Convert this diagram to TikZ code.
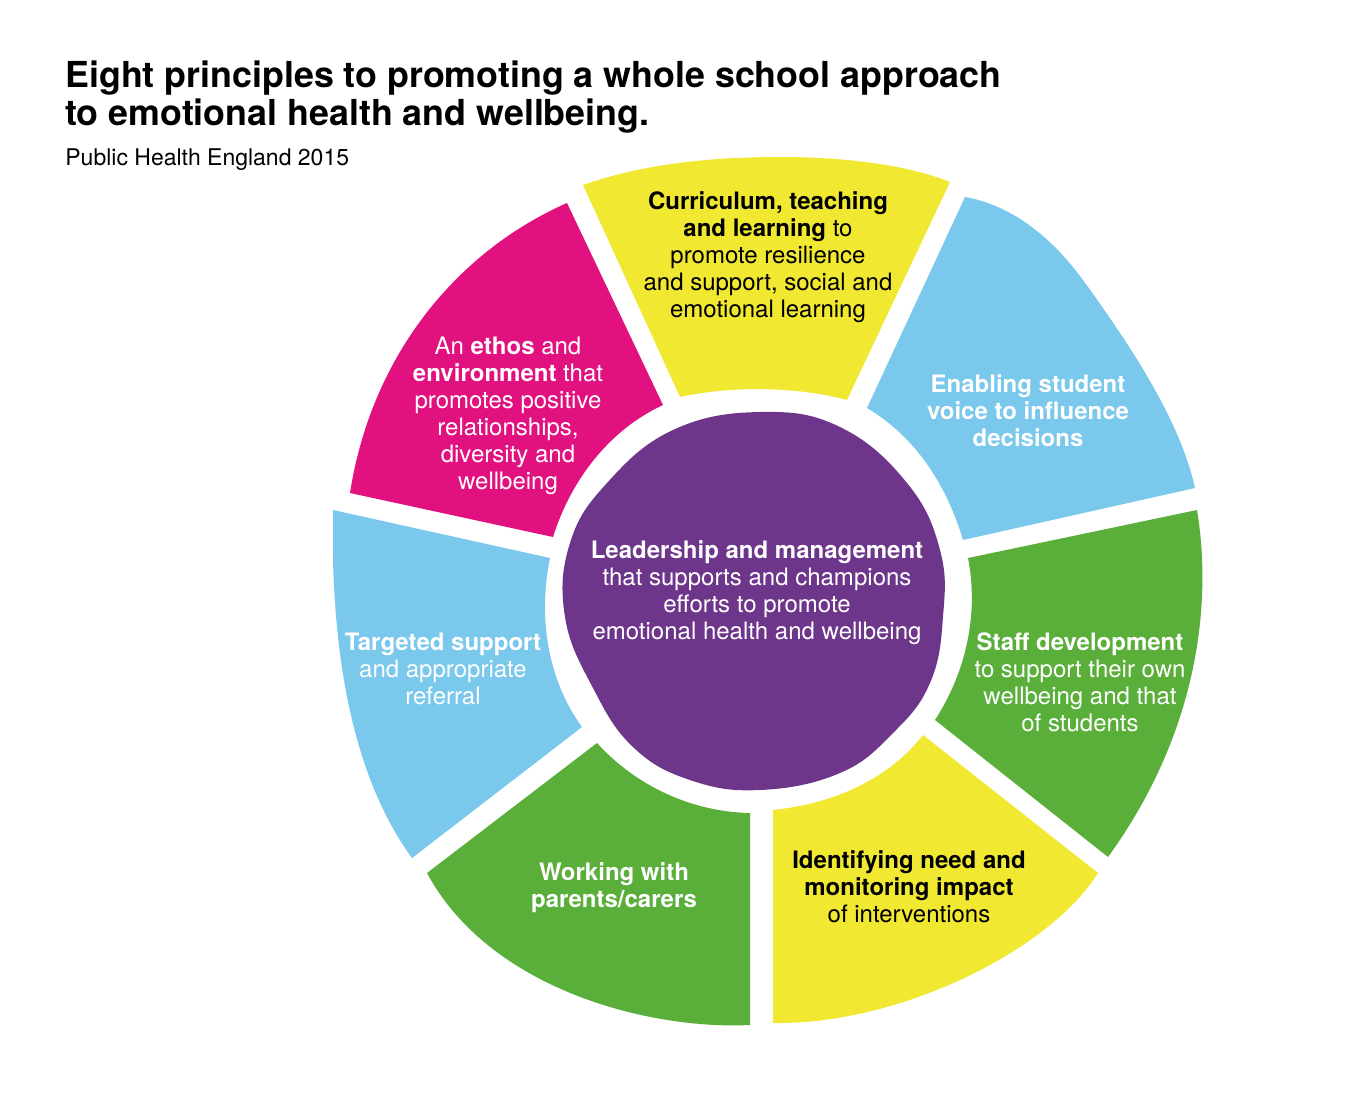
\documentclass[tikz,border=0pt]{standalone}
\usepackage{fontspec}
\setmainfont{TeX Gyre Heros}
\usetikzlibrary{positioning}

\definecolor{ethosmag}{HTML}{E1117F}
\definecolor{currylw}{HTML}{F1E831}
\definecolor{voicesky}{HTML}{7AC8EB}
\definecolor{staffgrn}{HTML}{5AAE3A}
\definecolor{leadplum}{HTML}{6E368A}

\begin{document}
\begin{tikzpicture}[x=0.5pt, y=-0.5pt,
    every text node part/.style={align=center},
    txt/.style = {inner sep=0pt, font=\fontsize{12}{13.5}\selectfont},
    lt/.style = {txt, text=white},
    dk/.style = {txt, text=black}
  ]
  \useasboundingbox (0,0) rectangle (1366,1114);

  % heading
  \node[anchor=base west, inner sep=0pt, every text node part/.style={align=left},
        font=\fontsize{17.9}{19}\selectfont\bfseries] (title) at (65,125)
        {Eight principles to promoting a whole school approach\\to emotional health and wellbeing.};
  \node[anchor=base west, inner sep=0pt,
        font=\fontsize{11.5}{13}\selectfont] (source) at (65,165) {Public Health England 2015};

  % segments of the ring
  \fill[ethosmag] (567,203) -- (663,405) .. controls (609,430) and (571,480) .. (553,537)
        -- (350,493) .. controls (372,352) and (460,250) .. (567,203) -- cycle;
  \fill[currylw] (583,185) .. controls (640,165) and (705,157) .. (780,157)
        .. controls (850,157) and (910,166) .. (950,182) -- (847,400)
        .. controls (795,386) and (730,386) .. (680,397) -- cycle;
  \fill[voicesky] (965,197) .. controls (1010,205) and (1050,235) .. (1083,280)
        .. controls (1130,345) and (1180,420) .. (1195,488) -- (963,540)
        .. controls (947,486) and (916,437) .. (867,408) -- cycle;
  \fill[staffgrn] (1197,510) .. controls (1212,600) and (1200,730) .. (1108,857)
        -- (935,720) .. controls (966,672) and (979,614) .. (968,558) -- cycle;
  \fill[currylw] (773,810) .. controls (831,804) and (887,781) .. (923,735) -- (1098,873)
        .. controls (1050,950) and (900,1025) .. (773,1023) -- cycle;
  \fill[staffgrn] (597,743) .. controls (636,786) and (692,812) .. (750,813) -- (750,1025)
        .. controls (650,1030) and (490,990) .. (427,873) -- cycle;
  \fill[voicesky] (333,510) -- (550,558) .. controls (538,616) and (547,679) .. (582,727)
        -- (412,858) .. controls (355,780) and (330,660) .. (333,510) -- cycle;

  % centre
  \fill[leadplum] plot[smooth cycle, tension=0.7] coordinates {
        (760,412) (840,427) (907,483) (940,550) (943,617) (930,683) (893,733)
        (840,773) (760,790) (690,780) (633,747) (593,688) (565,617) (570,543)
        (607,483) (673,430)};

  % labels
  \node[dk] (curric) at (768,257) {\textbf{Curriculum, teaching}\\\textbf{and learning} to\\promote resilience\\and support, social and\\emotional learning};
  \node[lt] (ethos) at (508,416) {An \textbf{ethos} and\\\textbf{environment} that\\promotes positive\\relationships,\\diversity and\\wellbeing};
  \node[lt] (voice) at (1028,411) {\textbf{Enabling student}\\\textbf{voice to influence}\\\textbf{decisions}};
  \node[lt] (lead) at (757,593) {\textbf{Leadership and management}\\that supports and champions\\efforts to promote\\emotional health and wellbeing};
  \node[lt] (target) at (443,669) {\textbf{Targeted support}\\and appropriate\\referral};
  \node[lt] (staff) at (1080,682) {\textbf{Staff development}\\to support their own\\wellbeing and that\\of students};
  \node[lt] (parents) at (614,888) {\textbf{Working with}\\\textbf{parents/carers}};
  \node[dk] (ident) at (909,887) {\textbf{Identifying need and}\\\textbf{monitoring impact}\\of interventions};
\end{tikzpicture}
\end{document}
